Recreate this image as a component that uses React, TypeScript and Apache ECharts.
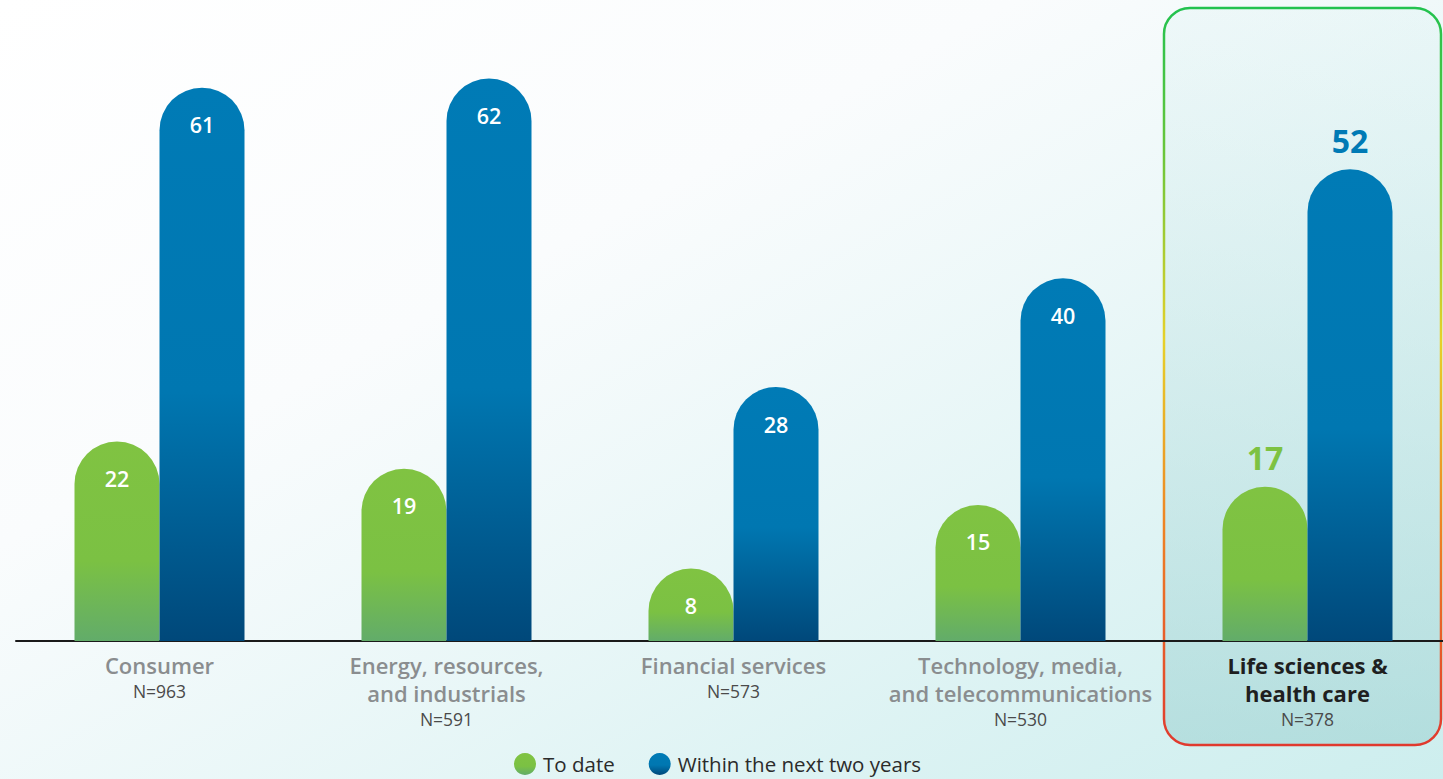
import React, { useEffect, useRef } from "react";
import * as echarts from "echarts";

const categories = [
  "Consumer",
  "Energy, resources,\nand industrials",
  "Financial services",
  "Technology, media,\nand telecommunications",
  "Life sciences &\nhealth care",
];
const sampleSizes = ["N=963", "N=591", "N=573", "N=530", "N=378"];
const toDate = [22, 19, 8, 15, 17];
const nextTwoYears = [61, 62, 28, 40, 52];
const seriesNames = ["To date", "Within the next two years"];
const highlightIndex = 4;

const FONT = "'Open Sans', 'Noto Sans', sans-serif";
const GREEN = "#7DC242";
const BLUE = "#007AB5";

export default function App() {
  const ref = useRef<HTMLDivElement>(null);

  useEffect(() => {
    if (!ref.current) return;
    const chart = echarts.init(ref.current, null, { renderer: "svg" });

    const greenFill = new echarts.graphic.LinearGradient(0, 0, 0, 1, [
      { offset: 0, color: "#80C342" },
      { offset: 0.6, color: "#7BC143" },
      { offset: 1, color: "#62AC6A" },
    ]);
    const blueFill = new echarts.graphic.LinearGradient(0, 0, 0, 1, [
      { offset: 0, color: "#007BB6" },
      { offset: 0.55, color: "#0077B1" },
      { offset: 1, color: "#00487A" },
    ]);

    const insideLabel = {
      show: true,
      position: "insideTop",
      distance: 26,
      color: "#FFFFFF",
      fontSize: 21.5,
      fontWeight: 600,
      fontFamily: FONT,
    };

    const buildData = (vals: number[], color: string) =>
      vals.map((v, i) =>
        i === highlightIndex
          ? {
              value: v,
              label: {
                show: true,
                position: "top",
                distance: 13,
                color,
                fontSize: 32,
                fontWeight: 700,
                fontFamily: FONT,
              },
            }
          : v
      );

    const option = {
      animation: false,
      backgroundColor: new echarts.graphic.LinearGradient(0, 0, 1, 1, [
        { offset: 0, color: "#FFFFFF" },
        { offset: 0.35, color: "#FAFCFD" },
        { offset: 1, color: "#CDEEEE" },
      ]),
      grid: { left: 16, width: 1435, top: 6, bottom: 138 },
      xAxis: {
        type: "category",
        data: categories,
        axisLine: { show: true, lineStyle: { color: "#1A1A1A", width: 2 } },
        axisTick: { show: false },
        axisLabel: {
          interval: 0,
          margin: 10,
          fontFamily: FONT,
          formatter: (value: string, idx: number) => {
            const style = idx === highlightIndex ? "hl" : "name";
            const lines = value.split("\n").map((l) => `{${style}|${l}}`);
            return lines.join("\n") + `\n{n|${sampleSizes[idx]}}`;
          },
          rich: {
            name: {
              fontSize: 22,
              fontWeight: 600,
              color: "#8A8D8F",
              lineHeight: 28,
              fontFamily: FONT,
            },
            hl: {
              fontSize: 22,
              fontWeight: 700,
              color: "#1F1F1F",
              lineHeight: 28,
              fontFamily: FONT,
            },
            n: {
              fontSize: 17.5,
              fontWeight: 400,
              color: "#4A4A4A",
              lineHeight: 24,
              fontFamily: FONT,
            },
          },
        },
      },
      yAxis: {
        type: "value",
        min: 0,
        max: 70,
        show: false,
        splitLine: { show: false },
      },
      legend: {
        data: seriesNames,
        left: 509,
        top: 748,
        icon: "circle",
        itemWidth: 22,
        itemHeight: 22,
        itemGap: 34,
        textStyle: {
          fontSize: 20.5,
          color: "#2B2B2B",
          fontFamily: FONT,
          padding: [0, 0, 0, 2],
        },
      },
      graphic: [
        {
          type: "rect",
          z: -1,
          shape: { x: 1164, y: 8, width: 277, height: 737, r: 26 },
          style: {
            fill: new echarts.graphic.LinearGradient(0, 0, 0, 1, [
              { offset: 0, color: "rgba(215,240,240,0.25)" },
              { offset: 1, color: "rgba(150,205,205,0.5)" },
            ]),
            stroke: new echarts.graphic.LinearGradient(0, 0, 0, 1, [
              { offset: 0, color: "#22C24F" },
              { offset: 0.2, color: "#6BC63A" },
              { offset: 0.45, color: "#E6D12A" },
              { offset: 0.7, color: "#EE8424" },
              { offset: 1, color: "#E0392E" },
            ]),
            lineWidth: 2.5,
          },
        },
        {
          type: "line",
          z: -1,
          shape: { x1: 1190, y1: 8, x2: 1416, y2: 8 },
          style: {
            stroke: new echarts.graphic.LinearGradient(0, 0, 1, 0, [
              { offset: 0, color: "#22C24F" },
              { offset: 1, color: "#1A9CC2" },
            ]),
            lineWidth: 2.5,
          },
        },
      ],
      series: [
        {
          name: seriesNames[0],
          type: "bar",
          data: buildData(toDate, GREEN),
          barWidth: 85,
          barGap: "0%",
          itemStyle: { color: greenFill, borderRadius: [43, 43, 0, 0] },
          label: insideLabel,
        },
        {
          name: seriesNames[1],
          type: "bar",
          data: buildData(nextTwoYears, BLUE),
          barWidth: 85,
          barGap: "0%",
          itemStyle: { color: blueFill, borderRadius: [43, 43, 0, 0] },
          label: insideLabel,
        },
      ],
      color: [GREEN, BLUE],
    };

    chart.setOption(option as any);
    return () => chart.dispose();
  }, []);

  return (
    <div
      ref={ref}
      style={{ position: "fixed", left: 0, top: 0, width: 1451, height: 779 }}
    />
  );
}
